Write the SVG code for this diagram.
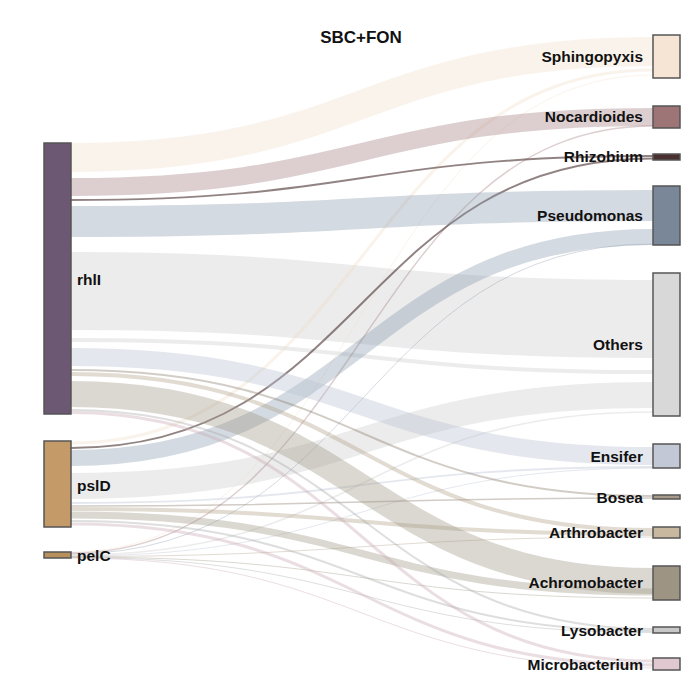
<svg xmlns="http://www.w3.org/2000/svg" width="691" height="688" viewBox="0 0 691 688">
<style>
text{font-family:"Liberation Sans",Arial,sans-serif;font-weight:bold;font-size:15.5px;fill:#111}
.r{text-anchor:end}
.n{stroke:#555;stroke-width:1.5}
path{fill:none;stroke-opacity:.38}
.sph{stroke:#f0d8bc;stroke-opacity:.3}.noc{stroke:#9e7577;stroke-opacity:.35}.rhi{stroke:#4a3030;stroke-opacity:.6}.pse{stroke:#8494a8;stroke-opacity:.35}.oth{stroke:#d0d0d0;stroke-opacity:.4}.ens{stroke:#b8c2d2}.bos{stroke:#8a7a6a}.art{stroke:#b0a088}.ach{stroke:#a09886}.lys{stroke:#a8a8a8}.mic{stroke:#c8a8b4}
</style>
<rect width="691" height="688" fill="#fff"/>
<text x="361" y="43" text-anchor="middle" style="font-size:17px">SBC+FON</text>
<g id="links">
<path class="oth" stroke-width="78" d="M71,291 C362,291 362,319 653,319"/>
<path class="oth" stroke-width="4" d="M71,340 C362,340 362,372 653,372"/>
<path class="oth" stroke-width="26" d="M71,486 C362,486 362,395 653,395"/>
<path class="oth" stroke-width="1.5" d="M71,555 C362,555 362,412 653,412"/>
<path class="sph" stroke-width="29" d="M71,157.5 C362,157.5 362,51.5 653,51.5"/>
<path class="sph" stroke-width="3" d="M71,443 C362,443 362,70 653,70"/>
<path class="sph" stroke-width="1" d="M71,552 C362,552 362,75 653,75"/>
<path class="noc" stroke-width="18" d="M71,187 C362,187 362,117 653,117"/>
<path class="noc" stroke-width="1.5" d="M71,553 C362,553 362,126 653,126"/>
<path class="rhi" stroke-width="2" d="M71,200 C362,200 362,156 653,156"/>
<path class="rhi" stroke-width="2" d="M71,448 C362,448 362,158.5 653,158.5"/>
<path class="pse" stroke-width="31" d="M71,221.5 C362,221.5 362,205.5 653,205.5"/>
<path class="pse" stroke-width="16" d="M71,458 C362,458 362,237 653,237"/>
<path class="pse" stroke-width="1" d="M71,554 C362,554 362,244 653,244"/>
<path class="ens" stroke-width="18" d="M71,357 C362,357 362,456 653,456"/>
<path class="ens" stroke-width="2" d="M71,503 C362,503 362,467 653,467"/>
<path class="ens" stroke-width="1" d="M71,556 C362,556 362,468 653,468"/>
<path class="bos" stroke-width="2" d="M71,370 C362,370 362,496 653,496"/>
<path class="bos" stroke-width="1.5" d="M71,506 C362,506 362,498 653,498"/>
<path class="art" stroke-width="4" d="M71,374 C362,374 362,530 653,530"/>
<path class="art" stroke-width="4" d="M71,509 C362,509 362,534 653,534"/>
<path class="art" stroke-width="1" d="M71,556.5 C362,556.5 362,537 653,537"/>
<path class="ach" stroke-width="26" d="M71,394 C362,394 362,581 653,581"/>
<path class="ach" stroke-width="7" d="M71,515 C362,515 362,592 653,592"/>
<path class="ach" stroke-width="1" d="M71,557 C362,557 362,598 653,598"/>
<path class="lys" stroke-width="2" d="M71,410 C362,410 362,629 653,629"/>
<path class="lys" stroke-width="2" d="M71,521 C362,521 362,631 653,631"/>
<path class="lys" stroke-width="1" d="M71,557.5 C362,557.5 362,632.5 653,632.5"/>
<path class="mic" stroke-width="3" d="M71,412.5 C362,412.5 362,661 653,661"/>
<path class="mic" stroke-width="3" d="M71,524 C362,524 362,665 653,665"/>
<path class="mic" stroke-width="1" d="M71,558 C362,558 362,668 653,668"/>
</g>
<g id="rhlI"><rect class="n" x="44" y="143" width="27" height="271" fill="#6d5873"/><text x="77" y="285">rhlI</text></g>
<g id="pslD"><rect class="n" x="44" y="441" width="27" height="86" fill="#c49a68"/><text x="77" y="491">pslD</text></g>
<g id="pelC"><rect class="n" x="44" y="552" width="27" height="6" fill="#b8905c"/><text x="77" y="561">pelC</text></g>
<g id="Sphingopyxis"><rect class="n" x="653" y="35" width="27" height="43" fill="#f6e4d4"/><text class="r" x="643" y="62">Sphingopyxis</text></g>
<g id="Nocardioides"><rect class="n" x="653" y="106" width="27" height="22" fill="#9e7577"/><text class="r" x="643" y="122">Nocardioides</text></g>
<g id="Rhizobium"><rect class="n" x="653" y="154" width="27" height="6" fill="#4a3030"/><text class="r" x="643" y="162">Rhizobium</text></g>
<g id="Pseudomonas"><rect class="n" x="653" y="186" width="27" height="59" fill="#7a8799"/><text class="r" x="643" y="221">Pseudomonas</text></g>
<g id="Others"><rect class="n" x="653" y="273" width="27" height="143" fill="#d8d8d8"/><text class="r" x="643" y="350">Others</text></g>
<g id="Ensifer"><rect class="n" x="653" y="444" width="27" height="24" fill="#c2c8d6"/><text class="r" x="643" y="462">Ensifer</text></g>
<g id="Bosea"><rect class="n" x="653" y="495" width="27" height="4" fill="#a89a8a"/><text class="r" x="643" y="503">Bosea</text></g>
<g id="Arthrobacter"><rect class="n" x="653" y="527" width="27" height="11" fill="#c9b8a0"/><text class="r" x="643" y="538">Arthrobacter</text></g>
<g id="Achromobacter"><rect class="n" x="653" y="566" width="27" height="34" fill="#9e9484"/><text class="r" x="643" y="588">Achromobacter</text></g>
<g id="Lysobacter"><rect class="n" x="653" y="627" width="27" height="6" fill="#c8c8c8"/><text class="r" x="643" y="636">Lysobacter</text></g>
<g id="Microbacterium"><rect class="n" x="653" y="658" width="27" height="12" fill="#e0c8d0"/><text class="r" x="643" y="670">Microbacterium</text></g>
</svg>
